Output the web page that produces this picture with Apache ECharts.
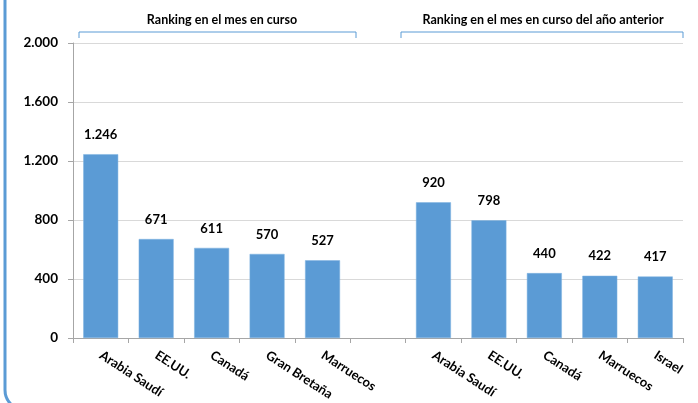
<!DOCTYPE html>
<html>
<head>
<meta charset="utf-8">
<script src="https://cdn.jsdelivr.net/npm/echarts@6/dist/echarts.min.js"></script>
<style>html,body{margin:0;padding:0;background:#fff}#c{width:698px;height:403px}</style>
</head>
<body>
<div id="c"></div>
<script>
var categories = ['Arabia Saudí','EE.UU.','Canadá','Gran Bretaña','Marruecos','','Arabia Saudí','EE.UU.','Canadá','Marruecos','Israel'];
var values = [1246, 671, 611, 570, 527, null, 920, 798, 440, 422, 417];
var yTicks = [0, 400, 800, 1200, 1600, 2000];
var groupTitles = ['Ranking en el mes en curso', 'Ranking en el mes en curso del año anterior'];

var FONT = 'Lato, "Open Sans", sans-serif';
function fmt(v){ return String(v).replace(/\B(?=(\d{3})+(?!\d))/g, '.'); }

var chart = echarts.init(document.getElementById('c'));
chart.setOption({
  animation: false,
  grid: {left: 73, right: 15, top: 43, bottom: 65, containLabel: false},
  xAxis: {
    type: 'category',
    data: categories,
    boundaryGap: true,
    axisLine: {lineStyle: {color: '#A6A6A6', width: 1}},
    axisTick: {show: true, length: 5, lineStyle: {color: '#A6A6A6'}},
    axisLabel: {rotate: -33, interval: 0, margin: 16, fontFamily: FONT, fontWeight: 'bold', fontSize: 13, color: '#000'}
  },
  yAxis: {
    type: 'value',
    min: yTicks[0], max: yTicks[yTicks.length-1], interval: 400,
    axisLine: {show: true, lineStyle: {color: '#A6A6A6'}},
    axisTick: {show: true, length: 5, lineStyle: {color: '#A6A6A6'}},
    splitLine: {lineStyle: {color: '#D9D9D9'}},
    axisLabel: {formatter: fmt, fontFamily: FONT, fontWeight: 'bold', fontSize: 13.5, color: '#000', margin: 15}
  },
  series: [{
    type: 'bar',
    data: values,
    barWidth: '63%',
    itemStyle: {color: '#5B9BD5', borderColor: '#7FB2E0', borderWidth: 0.5},
    label: {show: true, position: 'top', distance: 13, formatter: function(p){ return fmt(p.value); }, fontFamily: FONT, fontWeight: 'bold', fontSize: 13, color: '#000'}
  }],
  graphic: [
    {type: 'rect', shape: {x: 5, y: -30, width: 760, height: 440, r: 20}, style: {fill: 'none', stroke: '#5B9BD5', lineWidth: 3}, silent: true},
    {type: 'polyline', shape: {points: [[79, 38], [79, 32], [356, 32], [356, 38]]}, style: {stroke: '#5B9BD5', lineWidth: 1, fill: 'none'}},
    {type: 'polyline', shape: {points: [[401, 38], [401, 32], [683, 32], [683, 38]]}, style: {stroke: '#5B9BD5', lineWidth: 1, fill: 'none'}},
    {type: 'text', x: 222, y: 20, style: {text: groupTitles[0], fill: '#000', font: 'bold 12.5px ' + FONT, textAlign: 'center', textVerticalAlign: 'middle'}},
    {type: 'text', x: 543, y: 20, style: {text: groupTitles[1], fill: '#000', font: 'bold 12.5px ' + FONT, textAlign: 'center', textVerticalAlign: 'middle'}}
  ]
});
</script>
</body>
</html>
